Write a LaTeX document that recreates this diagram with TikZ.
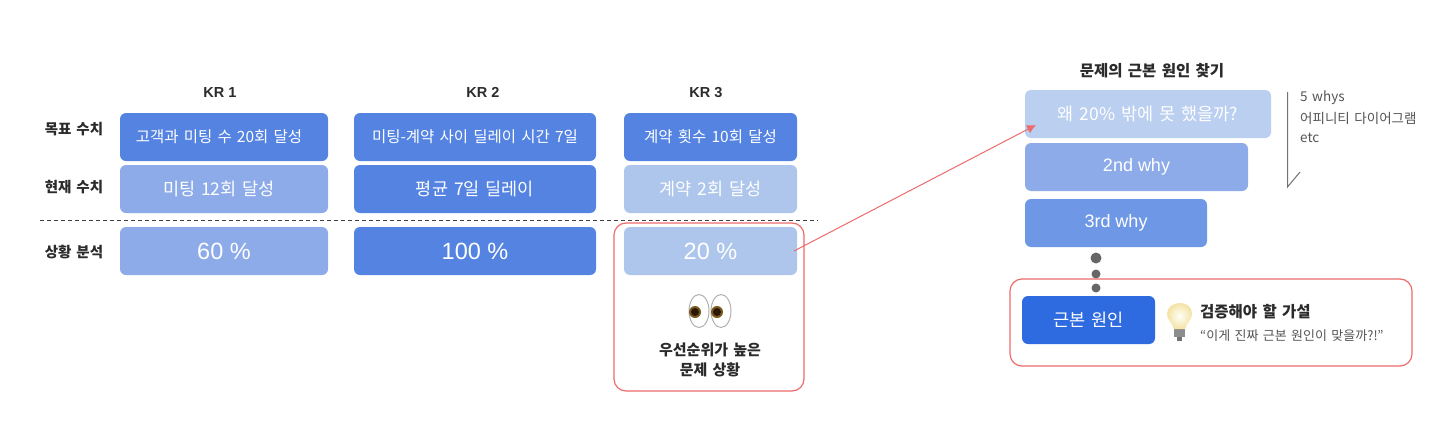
\documentclass[tikz,border=0pt]{standalone}
\usepackage{fontspec}
\usepackage{xcolor}
\setmainfont[WordSpace=1.5]{Noto Sans CJK KR}
\newfontfamily\latinfont{Liberation Sans}
\usetikzlibrary{arrows.meta,positioning,calc,shapes.geometric}
\definecolor{DarkBox}{HTML}{5483E2}
\definecolor{MidBox}{HTML}{8CABE8}
\definecolor{PaleBox}{HTML}{AEC6EC}
\definecolor{WhyOne}{HTML}{BBCFF0}
\definecolor{WhyThree}{HTML}{6E98E6}
\definecolor{RootBox}{HTML}{2F6BE0}
\definecolor{RedLine}{HTML}{EE6B6B}
\definecolor{InkText}{HTML}{2B2B2B}
\definecolor{GreyText}{HTML}{555555}
\definecolor{IrisBrown}{HTML}{7A5A1E}
\definecolor{PupilDark}{HTML}{2A1706}
\definecolor{GlassEdge}{HTML}{F4E3A6}
\newcommand{\nudge}[1]{\kern-5pt #1\kern5pt}

\begin{document}
\begin{tikzpicture}[
  x=1pt,y=-1pt,
  node distance=4pt and 26pt,
  card/.style={rounded corners=6pt,inner sep=0pt,outer sep=0pt,minimum height=48pt,align=center,text=white},
  small/.style={card,font=\fontsize{15.5}{18}\selectfont},
  mid/.style={card,font=\fontsize{17.5}{20}\selectfont},
  big/.style={card,font=\latinfont\fontsize{23.5}{26}\selectfont},
  why/.style={card,anchor=north west,font=\latinfont\fontsize{18}{20}\selectfont},
  rowlabel/.style={font=\bfseries\fontsize{14.5}{18}\selectfont,text=InkText},
  krhead/.style={font=\latinfont\bfseries\fontsize{14.5}{17}\selectfont,text=InkText,text height=10.5pt,text depth=0pt},
  head/.style={font=\bfseries\fontsize{15.5}{18}\selectfont,text=InkText},
  note/.style={font=\fontsize{13.5}{16}\selectfont,text=GreyText,anchor=west,inner sep=0pt},
  redbox/.style={draw=RedLine,line width=1.2pt,rounded corners=12pt},
  redarr/.style={-{Latex[length=9pt,width=9pt]},line width=1pt,draw=RedLine},
  dot/.style={circle,fill=black!60,inner sep=0pt},
  eye/.style={draw=black!30,fill=white,ellipse,line width=1pt,minimum width=20pt,minimum height=33pt,inner sep=0pt}
]
\useasboundingbox (0,0) rectangle (1456,442);
\path[fill=white] (0,0) rectangle (1456,442);
% left table
\node[small,fill=DarkBox,minimum width=208pt] (t1) at (224,137) {\nudge{고객과 미팅 수 20회 달성}};
\node[small,fill=DarkBox,minimum width=242pt,right=of t1] (t2) {미팅-계약 사이 딜레이 시간 7일};
\node[small,fill=DarkBox,minimum width=173pt,right=28pt of t2] (t3) {계약 횟수 10회 달성};
\node[mid,fill=MidBox,minimum width=208pt,below=of t1] (n1) {\nudge{미팅 12회 달성}};
\node[mid,fill=DarkBox,minimum width=242pt,below=of t2] (n2) {평균 7일 딜레이};
\node[mid,fill=PaleBox,minimum width=173pt,below=of t3] (n3) {계약 2회 달성};
\node[big,fill=MidBox,minimum width=208pt,below=14pt of n1] (p1) {60 \%};
\node[big,fill=DarkBox,minimum width=242pt,below=14pt of n2] (p2) {100 \%};
\node[big,fill=PaleBox,minimum width=173pt,below=14pt of n3] (p3) {20 \%};
\node[krhead] (kr1) at (220,92) {KR 1};
\node[krhead] (kr2) at (483,92) {KR 2};
\node[krhead] (kr3) at (706,92) {KR 3};
\node[rowlabel] (l1) at (74,129) {목표 수치};
\node[rowlabel] (l2) at (74,187) {현재 수치};
\node[rowlabel] (l3) at (74,252) {상황 분석};
\coordinate (dashl) at (40,220);
\coordinate (dashr) at (818,220);
\draw[line width=1pt,draw=black!75,dash pattern=on 4pt off 3pt] (dashl)--(dashr);
\node[redbox,minimum width=190pt,minimum height=168pt] (focus) at (709,307) {};
% eyes
\node[eye] (eyel) at (699,311) {};
\node[eye] (eyer) at (721,311) {};
\fill[IrisBrown] (695,312) circle (6);
\fill[IrisBrown] (717,312) circle (6);
\fill[PupilDark] (695,312) circle (4);
\fill[PupilDark] (717,312) circle (4);
\node[font=\bfseries\fontsize{15}{20}\selectfont,text=InkText,align=center] (prio) at (710,360) {우선순위가 높은\\문제 상황};
% right side
\node[head] (title) at (1152,71) {문제의 근본 원인 찾기};
\node[mid,anchor=north west,fill=WhyOne,minimum width=246pt] (why1) at (1025,90) {왜 20\% 밖에 못 했을까?};
\node[why,fill=MidBox,minimum width=223pt] (why2) at (1025,143) {2nd why};
\node[why,fill=WhyThree,minimum width=182pt] (why3) at (1025,199) {3rd why};
\node[dot,minimum size=11pt] (d1) at (1096,258) {};
\node[dot,minimum size=9pt] (d2) at (1096,274) {};
\node[dot,minimum size=9pt] (d3) at (1096,288) {};
\node[redbox,minimum width=402pt,minimum height=87pt] (rootframe) at (1211,322.5) {};
\node[mid,fill=RootBox,minimum width=133pt,anchor=north west] (root) at (1022,296) {근본 원인};
% bulb
\fill[black!45] (1174,329) rectangle (1185,337);
\fill[black!55] (1177,337) rectangle (1182,341);
\shade[inner color=yellow!3,outer color=GlassEdge] (1174,329) .. controls (1172,322) and (1167,320) .. (1167,314) .. controls (1167,307) and (1173,303) .. (1180,303) .. controls (1187,303) and (1192,307) .. (1192,314) .. controls (1192,320) and (1187,322) .. (1185,329) -- cycle;
\node[head,anchor=west,inner sep=0pt] (hyp) at (1200,312) {검증해야 할 가설};
\node[note,font=\fontsize{13}{15}\selectfont] (quote) at (1200,336) {“이게 진짜 근본 원인이 맞을까?!”};
\coordinate (tickt) at (1287.5,92);
\coordinate (tickb) at (1287.5,187);
\coordinate (tickh) at (1300,172);
\draw[line width=1pt,draw=black!55] (tickt)--(tickb)--(tickh);
\node[note] (w1) at (1300,98) {5 whys};
\node[note] (w2) at (1300,118) {어피니티 다이어그램};
\node[note] (w3) at (1300,138) {etc};
\draw[redarr] ([xshift=-3pt]p3.east)--([xshift=11pt,yshift=13pt]why1.south west);
\end{tikzpicture}
\end{document}
